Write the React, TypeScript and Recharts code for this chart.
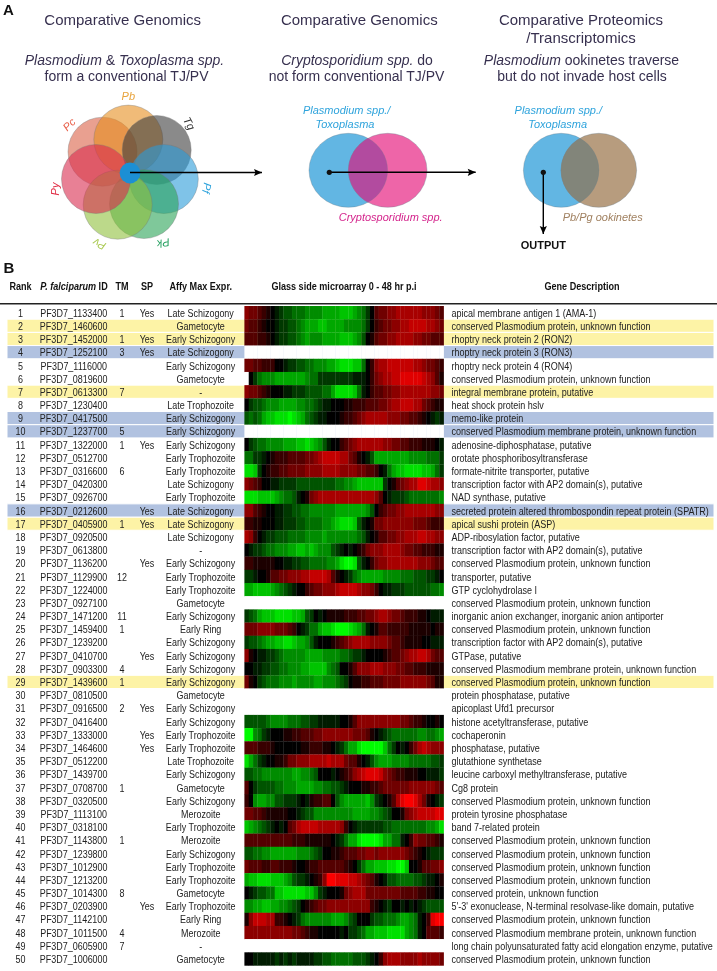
import React from 'react';
import { ScatterChart, Scatter, XAxis, YAxis, ReferenceArea, ReferenceLine } from 'recharts';

const SANS = '"Liberation Sans", Arial, sans-serif';
const W = 717;
const TOP_H = 260;
const BOT_H = 711;

// ---------- Panel A data ----------
const petals = [
  { name: 'Pc', x: 102.5, y: 151.7, fill: '#da6146' },
  { name: 'Pb', x: 128.3, y: 139.6, fill: '#e68e1e' },
  { name: 'Tg', x: 156.7, y: 150, fill: '#3c3c3c' },
  { name: 'Pf', x: 163.8, y: 179, fill: '#2a9bd9' },
  { name: 'Pk', x: 144, y: 204, fill: '#2aa357' },
  { name: 'Pv', x: 117.7, y: 204.7, fill: '#8fc03c' },
  { name: 'Py', x: 96, y: 179, fill: '#d92b4e' },
];
const flowerCore = [{ x: 130, y: 173 }];
const petalLabels = [
  { x: 128.3, y: 96, t: 'Pb', c: '#e8a33c', r: 0 },
  { x: 69, y: 124.3, t: 'Pc', c: '#e8604a', r: -45 },
  { x: 189.3, y: 123.3, t: 'Tg', c: '#333333', r: 62 },
  { x: 206.9, y: 188, t: 'Pf', c: '#2ea3dc', r: 100 },
  { x: 163.3, y: 243.3, t: 'Pk', c: '#25a060', r: 170 },
  { x: 99.3, y: 244.3, t: 'Pv', c: '#a9c94f', r: 205 },
  { x: 55, y: 189, t: 'Py', c: '#e02c44', r: -90 },
];
const vennCircles = [
  { x: 348.3, y: 170.3, rx: 39.3, ry: 37, fill: '#62b6e3' },
  { x: 387.7, y: 170.3, rx: 39.3, ry: 37, fill: '#ee65a8' },
  { x: 561.2, y: 170.3, rx: 37.8, ry: 37, fill: '#62b6e3' },
  { x: 598.8, y: 170.3, rx: 37.8, ry: 37, fill: '#b79c7e' },
];
const vennLenses = [
  { x: 368, y: 170.3, d: 19.7, rx: 39.3, ry: 37, fill: '#b24b9f' },
  { x: 580, y: 170.3, d: 18.8, rx: 37.8, ry: 37, fill: '#82857a' },
];
const arrowA = [{ x: 130, y: 172.5, end: 'none' }, { x: 262, y: 172.5, end: 'right' }];
const arrowB = [{ x: 329.3, y: 172.3, end: 'dot' }, { x: 475.7, y: 172.3, end: 'right' }];
const arrowC = [{ x: 543.3, y: 172.3, end: 'dot' }, { x: 543.3, y: 234, end: 'down' }];

type Piece = { t: string; i?: boolean };
const titleLines: { x: number; y: number; parts: Piece[] }[] = [
  { x: 122.7, y: 20, parts: [{ t: 'Comparative Genomics' }] },
  { x: 359.3, y: 20, parts: [{ t: 'Comparative Genomics' }] },
  { x: 581, y: 20, parts: [{ t: 'Comparative Proteomics' }] },
  { x: 581, y: 38, parts: [{ t: '/Transcriptomics' }] },
];
const subLines: { x: number; y: number; parts: Piece[] }[] = [
  { x: 124.5, y: 60, parts: [{ t: 'Plasmodium', i: true }, { t: ' & ' }, { t: 'Toxoplasma spp.', i: true }] },
  { x: 126.5, y: 76, parts: [{ t: 'form a conventional TJ/PV' }] },
  { x: 357, y: 60, parts: [{ t: 'Cryptosporidium spp.', i: true }, { t: ' do' }] },
  { x: 356.5, y: 76, parts: [{ t: 'not form conventional TJ/PV' }] },
  { x: 581.5, y: 60, parts: [{ t: 'Plasmodium', i: true }, { t: ' ookinetes traverse' }] },
  { x: 582, y: 76, parts: [{ t: 'but do not invade host cells' }] },
];
const vennLabels = [
  { x: 346.7, y: 110, t: 'Plasmodium spp./', c: '#2ea3dc' },
  { x: 345, y: 124, t: 'Toxoplasma', c: '#2ea3dc' },
  { x: 390.7, y: 217.3, t: 'Cryptosporidium spp.', c: '#d4248c' },
  { x: 558.3, y: 110, t: 'Plasmodium spp./', c: '#2ea3dc' },
  { x: 557.7, y: 124, t: 'Toxoplasma', c: '#2ea3dc' },
  { x: 602.7, y: 217.3, t: 'Pb/Pg ookinetes', c: '#a08060' },
];

// ---------- Panel B data ----------
const geneIds = ['1133400','1460600','1452000','1252100','1116000','0819600','0613300','1230400','0417500','1237700','1322000','0512700','0316600','0420300','0926700','0212600','0405900','0920500','0613800','1136200','1129900','1224000','0927100','1471200','1459400','1239200','0410700','0903300','1439600','0810500','0916500','0416400','1333000','1464600','0512200','1439700','0708700','0320500','1113100','0318100','1143800','1239800','1012900','1213200','1014300','0203900','1142100','1011500','0605900','1006000'];
const tmCounts = ['1','','1','3','','','7','','','5','1','','6','','','','1','','','','12','','','11','1','','','4','1','','2','','','','','','1','','','','1','','','','8','','','4','7',''];
const spFlags = [1,0,1,1,0,0,0,0,0,0,1,0,0,0,0,1,1,0,0,1,0,0,0,0,0,0,1,0,0,0,1,0,1,1,0,0,0,0,0,0,0,0,0,0,0,1,0,0,0,0];
const LS = 'Late Schizogony', ES = 'Early Schizogony', GA = 'Gametocyte', LT = 'Late Trophozoite', ET = 'Early Trophozoite', ER = 'Early Ring', ME = 'Merozoite';
const stages = [LS,GA,ES,LS,ES,GA,'-',LT,ES,ES,ES,ET,ET,LS,ET,LS,LS,LS,'-',ES,ET,ET,GA,ES,ER,ES,ES,ES,ES,GA,ES,ES,ET,ET,LT,ES,GA,ES,ME,ET,ME,ES,ET,ET,GA,ET,ER,ME,'-',GA];
const CP = 'conserved Plasmodium protein, unknown function';
const CM = 'conserved Plasmodium membrane protein, unknown function';
const AP2 = 'transcription factor with AP2 domain(s), putative';
const descriptions = ['apical membrane antigen 1 (AMA-1)',CP,'rhoptry neck protein 2 (RON2)','rhoptry neck protein 3 (RON3)','rhoptry neck protein 4 (RON4)',CP,'integral membrane protein, putative','heat shock protein hslv','memo-like protein',CM,'adenosine-diphosphatase, putative','orotate phosphoribosyltransferase','formate-nitrite transporter, putative',AP2,'NAD synthase, putative','secreted protein altered thrombospondin repeat protein (SPATR)','apical sushi protein (ASP)','ADP-ribosylation factor, putative',AP2,CP,'transporter, putative','GTP cyclohydrolase I',CP,'inorganic anion exchanger, inorganic anion antiporter',CP,AP2,'GTPase, putative',CM,CP,'protein phosphatase, putative','apicoplast Ufd1 precursor','histone acetyltransferase, putative','cochaperonin','phosphatase, putative','glutathione synthetase','leucine carboxyl methyltransferase, putative','Cg8 protein',CP,'protein tyrosine phosphatase','band 7-related protein',CP,CP,CP,CP,'conserved protein, unknown function',"5'-3' exonuclease, N-terminal resolvase-like domain, putative",CP,CM,'long chain polyunsaturated fatty acid elongation enzyme, putative',CP];
const yellowRows = [2, 3, 7, 17, 29];
const blueRows = [4, 9, 10, 16];

// Heat values per rank, 46 time points. '.' = 0, 1-9 = red level, a-i = green level, _ = no data.
const NA = '__________ __________ __________ __________ ______';
const heatRows = [
  '544321.abc cdddeeeeff ffgggfedb. 3445566666 655543',
  '43321..abb ccdefffggf fffeeeedb. 2344556677 776654',
  '333221.abb ccdefeeeff ffgggfec.1 3445566665 544333',
  NA,
  '4433222..a bbccddeeef fghhhggd.2 5667777776 654432',
  '_.bdeeefff ffffeddbbb bbbbbaaa.2 4566778888 876531',
  '544321...a abbbccccdd fhhhhgda.2 3344556666 666554',
  '.bccdeeeff ffeeddcbaa ...1122233 3445667776 643211',
  'cdcdfgghhh ihgfdcbaa. ..12234566 6665554433 21.aba',
  NA,
  '.bcddeeeef ffgghgfeca ..23456666 6655443322 2111.a',
  'ddbba.1222 3333445677 7766431.ac ffffffffee eedddb',
  'hhgb.12233 4444555566 6655554433 2.adfgghhh hggfdb',
  '5432..aabb bbcccccccc cddeefgggg ggb.134566 887665',
  'hhhggggfed dca.145666 6666666666 53.abbbcdd ddddde',
  '55321..aab bccddeeeee efffffffec .234455666 666655',
  '2211...aab bbccddddee fghhhgca.1 4455555554 443222',
  '652.abbccc ddddeeeefe eeeeeedca. 1334455666 776655',
  '.abbcddeee ffggfgfeee cba.a.1245 5566665443 322211',
  '2211111..a abbccdddde efhiihca.2 4556666666 555433',
  'bba..13344 5556677776 31.abdefff ffeeeedddc ccbba.',
  'ffggggfedc ba..234455 5677776554 2.aabbbccc cccdde',
  NA,
  'bcdfggghhh hggfcb.a.1 1112223344 5665443222 11.aaa',
  '4445555444 32.abddfgg hiiihgfda. 1332222211 111.11',
  'bccdeffggh hgffeca... 1234566665 5554332111 1..aaa',
  '51.aabbcde eeeeffffee eeddcbba.. ..12334566 776433',
  '..aabbccdd eeeffgggge dc..135556 6655544332 221111',
  '41.bcdddee efeeeeffee edcb.11223 3344445555 554311',
  NA,
  NA,
  'cccccdeeee dddccbbaaa aa..135555 5555554432 21..1.',
  'iiedba...1 1223334455 5555544431 .abcdddddd eeddef',
  '3332221... ...1122211 .abdffhiii iigdb.a.24 676555',
  'hfdba..112 4455566667 6664331.ac efffeeeedd dddccb',
  'ccddeeeeee effeedc... a.12356788 8754322111 ..aaab',
  '3.bccccdde eeffffeedd ccba...112 2344444455 555543',
  '2.effeeccb bba.a12233 .cefffffge ba.1368998 641.ab',
  '4433211111 ..abcceeee eeeeeffffe edcb..1456 777788',
  'gfedcba.a. 3467777666 6652.abbbb bbccdddddd ddeefh',
  '3333333333 3222111111 .abdffhiii ihffdda.25 443321',
  'ccddeeffff ffeeedcb.. 1123334455 4555555432 1.abbb',
  '4333223322 21..122333 33321.bdff ggghhiig.. 133445',
  'fgghhhgggf ecbba.1259 9888776543 1.accddddc cbaa.1',
  '.abccddggh hhhhggeba. ..14566644 4444443333 2211..',
  'eeffggffee dcb.123445 5555555552 1.ab..a.a. abcccc',
  '1577766221 .abdeeeeee fffecb...b ccdddeffed a.2899',
  '5555555555 5443211... ..a.bbcdff ggghhhhfed a.3332',
  NA,
  '..aaaaabab abaaaabbcc dddddcccba .256665555 655554',
];

const headers: { x: number; parts: Piece[] }[] = [
  { x: 20.5, parts: [{ t: 'Rank' }] },
  { x: 74, parts: [{ t: 'P. falciparum', i: true }, { t: ' ID' }] },
  { x: 122, parts: [{ t: 'TM' }] },
  { x: 147, parts: [{ t: 'SP' }] },
  { x: 200.7, parts: [{ t: 'Affy Max Expr.' }] },
  { x: 344, parts: [{ t: 'Glass side microarray 0 - 48 hr p.i' }] },
  { x: 582, parts: [{ t: 'Gene Description' }] },
];

// Layout of panel B
const HEAT_LEFT = 244.4;
const CELL = 4.33;
const ROW = 13.19;
const FIRST_TOP = 306 - TOP_H;
const rankAtY = (px: number) => 0.5 + (px - FIRST_TOP) / ROW;
const rankDomain: [number, number] = [rankAtY(0), rankAtY(BOT_H)];
const HEADER_RANK = rankAtY(286 - TOP_H);
const RULE_RANK = rankAtY(303.7 - TOP_H);

const heatColor = (ch: string) => {
  if (ch === '_') return '#ffffff';
  if (ch === '.') return '#000000';
  if (ch >= '1' && ch <= '9') return `rgb(${Math.min(255, Number(ch) * 28)},0,0)`;
  const g = ch.charCodeAt(0) - 96;
  return `rgb(0,${Math.min(255, g * 28)},0)`;
};
const heatCells = heatRows.flatMap((row, r) =>
  row.replace(/ /g, '').split('').map((ch, c) => ({ x: HEAT_LEFT + c * CELL, y: r + 1, fill: heatColor(ch) })),
);
const ranks = geneIds.map((_, i) => i + 1);
const column = (x: number, get: (i: number) => string) =>
  ranks.map((rank, i) => ({ x, y: rank, label: get(i) })).filter((d) => d.label !== '');

const centerCols = [
  column(20.5, (i) => String(i + 1)),
  column(73.7, (i) => 'PF3D7_' + geneIds[i]),
  column(122, (i) => tmCounts[i]),
  column(147, (i) => (spFlags[i] ? 'Yes' : '')),
  column(200.7, (i) => stages[i]),
];
const descCol = column(451.5, (i) => descriptions[i]);

// ---------- Shapes ----------
const condensed = (cx: number, cy: number, sx: number, rot = 0) =>
  `translate(${cx} ${cy}) rotate(${rot}) scale(${sx} 1)`;

const cellShape = (p: any) => (
  <rect x={p.cx} y={p.cy - ROW / 2} width={CELL + 0.3} height={ROW + 0.2} fill={p.payload.fill} />
);
const textShape = (anchor: string, size: number, color: string, sx: number) => (p: any) => (
  <text transform={condensed(p.cx, p.cy, sx)} dy="0.36em" textAnchor={anchor} fontFamily={SANS} fontSize={size} fill={color}>
    {p.payload.label}
  </text>
);
const richShape = (size: number, color: string, weight: string, sx: number) => (p: any) => (
  <text transform={condensed(p.cx, p.cy, sx)} dy="0.36em" textAnchor="middle" fontFamily={SANS} fontSize={size} fill={color} fontWeight={weight}>
    {p.payload.parts.map((s: Piece, i: number) => (
      <tspan key={i} fontStyle={s.i ? 'italic' : 'normal'}>{s.t}</tspan>
    ))}
  </text>
);
const petalShape = (p: any) => (
  <circle cx={p.cx} cy={p.cy} r={34.5} fill={p.payload.fill} fillOpacity={0.6} stroke="#777777" strokeOpacity={0.45} strokeWidth={0.8} />
);
const coreShape = (p: any) => <circle cx={p.cx} cy={p.cy} r={10.4} fill="#1c8fd4" />;
const vennShape = (p: any) => (
  <ellipse cx={p.cx} cy={p.cy} rx={p.payload.rx} ry={p.payload.ry} fill={p.payload.fill} stroke="#6b7f8c" strokeOpacity={0.5} strokeWidth={0.7} />
);
const lensShape = (p: any) => {
  const { d, rx, ry, fill } = p.payload;
  const h = ry * Math.sqrt(1 - (d / rx) * (d / rx));
  return (
    <path
      d={`M${p.cx} ${p.cy - h}A${rx} ${ry} 0 0 1 ${p.cx} ${p.cy + h}A${rx} ${ry} 0 0 1 ${p.cx} ${p.cy - h}Z`}
      fill={fill}
      stroke="#6b7f8c"
      strokeOpacity={0.4}
      strokeWidth={0.6}
    />
  );
};
const arrowEnd = (p: any) => {
  const e = p.payload.end;
  if (e === 'dot') return <circle cx={p.cx} cy={p.cy} r={2.6} fill="#111" />;
  if (e === 'right') return <path d={`M${p.cx} ${p.cy}l-8 -3.6 1.5 3.6 -1.5 3.6z`} fill="#000" />;
  if (e === 'down') return <path d={`M${p.cx} ${p.cy}l-3.6 -8 3.6 1.5 3.6 -1.5z`} fill="#000" />;
  return <g />;
};
const petalLabelShape = (p: any) => (
  <text transform={condensed(p.cx, p.cy, 1, p.payload.r)} dy="0.36em" textAnchor="middle" fontFamily={SANS} fontSize={11} fontStyle="italic" fill={p.payload.c}>
    {p.payload.t}
  </text>
);
const vennLabelShape = (p: any) => (
  <text x={p.cx} y={p.cy} dy="0.36em" textAnchor="middle" fontFamily={SANS} fontSize={11} fontStyle="italic" fill={p.payload.c}>
    {p.payload.t}
  </text>
);
const plainShape = (size: number, sx: number) => (p: any) => (
  <text transform={condensed(p.cx, p.cy, sx)} dy="0.36em" textAnchor="middle" fontFamily={SANS} fontSize={size} fontWeight="bold" fill="#111">
    {p.payload.t}
  </text>
);

const s = (data: any[], shape: any, key: string, extra: any = {}) => (
  <Scatter key={key} data={data} shape={shape} isAnimationActive={false} {...extra} />
);

export default function App() {
  return (
    <div style={{ position: 'absolute', left: 0, top: 0, width: W, height: TOP_H + BOT_H, background: '#fff', filter: 'blur(0.35px)' }}>
      <ScatterChart width={W} height={TOP_H} margin={{ top: 0, right: 0, bottom: 0, left: 0 }} style={{ position: 'absolute', left: 0, top: 0 }}>
        <XAxis type="number" dataKey="x" domain={[0, W]} hide allowDataOverflow />
        <YAxis type="number" dataKey="y" domain={[0, TOP_H]} reversed hide allowDataOverflow />
        {s(petals, petalShape, 'petals')}
        {s(flowerCore, coreShape, 'core')}
        {s(vennCircles, vennShape, 'venn')}
        {s(vennLenses, lensShape, 'lens')}
        {s(arrowA, arrowEnd, 'a1', { line: { stroke: '#000', strokeWidth: 1.4 } })}
        {s(arrowB, arrowEnd, 'a2', { line: { stroke: '#000', strokeWidth: 1.4 } })}
        {s(arrowC, arrowEnd, 'a3', { line: { stroke: '#000', strokeWidth: 1.4 } })}
        {s(titleLines, richShape(15, '#37304f', 'normal', 1), 'titles')}
        {s(subLines, richShape(14, '#37304f', 'normal', 1), 'subs')}
        {s(petalLabels, petalLabelShape, 'plabels')}
        {s(vennLabels, vennLabelShape, 'vlabels')}
        {s([{ x: 543.3, y: 244.7, t: 'OUTPUT' }], plainShape(11, 1), 'output')}
        {s([{ x: 8.5, y: 9.5, t: 'A' }], plainShape(15, 1), 'panelA')}
      </ScatterChart>
      <ScatterChart width={W} height={BOT_H} margin={{ top: 0, right: 0, bottom: 0, left: 0 }} style={{ position: 'absolute', left: 0, top: TOP_H }}>
        <XAxis type="number" dataKey="x" domain={[0, W]} hide allowDataOverflow />
        <YAxis type="number" dataKey="y" domain={rankDomain} reversed hide allowDataOverflow />
        {yellowRows.map((r) => (
          <ReferenceArea key={'y' + r} x1={7} x2={714} y1={r - 0.5} y2={r + 0.5} fill="#fdf3a6" fillOpacity={1} stroke="#ffffff" strokeWidth={1} />
        ))}
        {blueRows.map((r) => (
          <ReferenceArea key={'b' + r} x1={7} x2={714} y1={r - 0.5} y2={r + 0.5} fill="#b1c2e0" fillOpacity={1} stroke="#ffffff" strokeWidth={1} />
        ))}
        <ReferenceLine y={RULE_RANK} stroke="#222222" strokeWidth={1.4} segment={[{ x: 5, y: RULE_RANK }, { x: 714, y: RULE_RANK }]} />
        {s(heatCells, cellShape, 'heat')}
        {centerCols.map((col, i) => s(col, textShape('middle', 11.5, '#222', 0.78), 'col' + i))}
        {s(descCol, textShape('start', 11.5, '#222', 0.785), 'desc')}
        {s(headers.map((h) => ({ ...h, y: HEADER_RANK })), richShape(11, '#111', 'bold', 0.825), 'head')}
        {s([{ x: 9, y: rankAtY(268 - TOP_H), t: 'B' }], plainShape(15, 1), 'panelB')}
      </ScatterChart>
    </div>
  );
}
